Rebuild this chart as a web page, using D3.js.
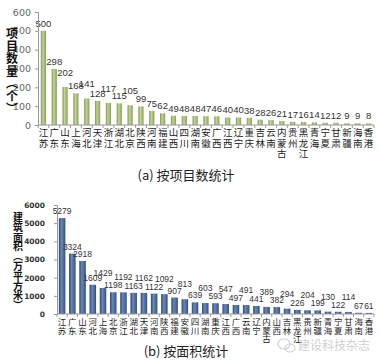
<!DOCTYPE html>
<html>
<head>
<meta charset="utf-8">
<script src="https://cdn.jsdelivr.net/npm/d3@7/dist/d3.min.js"></script>
<style>
  body { margin: 0; background: #fff; }
  text { font-family: "Noto Sans CJK SC", "Noto Sans", sans-serif; }
</style>
</head>
<body>
<svg id="chart"></svg>
<script>
// (a) by number of projects
var catsA = ['江苏','广东','山东','上海','河北','天津','浙江','湖北','北京','陕西','河南','福建','山西','四川','湖南','安徽','广西','江西','辽宁','重庆','吉林','云南','内蒙古','贵州','黑龙江','青海','宁夏','甘肃','新疆','海南','香港'];
var valsA = [500,298,202,168,141,128,117,115,105,99,75,62,49,48,48,47,46,40,40,38,28,26,21,17,16,14,12,12,9,9,8];
var ticksA = [0,100,200,300,400,500,600];

// (b) by floor area (10k m2)
var catsB = ['江苏','广东','山东','河北','上海','北京','浙江','湖北','天津','河南','陕西','福建','安徽','四川','湖南','重庆','江西','广西','云南','辽宁','内蒙古','山西','吉林','黑龙江','贵州','新疆','青海','宁夏','甘肃','海南','香港'];
var valsB = [5279,3324,2918,1609,1429,1198,1192,1163,1162,1122,1092,907,813,639,603,593,547,497,491,441,389,382,294,226,204,199,130,122,114,67,61];
var ticksB = [0,1000,2000,3000,4000,5000,6000];

var svg = d3.select('#chart').attr('width', 381).attr('height', 364);
var defs = svg.append('defs');

function grad(id, c0, c1, c2) {
  var g = defs.append('linearGradient').attr('id', id)
      .attr('x1', 0).attr('x2', 1).attr('y1', 0).attr('y2', 0);
  g.append('stop').attr('offset', '0%').attr('stop-color', c0);
  g.append('stop').attr('offset', '40%').attr('stop-color', c1);
  g.append('stop').attr('offset', '100%').attr('stop-color', c2);
}
grad('gA', '#7c9649', '#c3d39b', '#86a156');
grad('gB', '#2c4878', '#6a88b6', '#33507f');

function panel(o) {
  var g = svg.append('g');
  var x = d3.scaleBand().domain(o.cats).range(o.xr).paddingInner(o.pad).paddingOuter(o.pad / 2);
  var y = d3.scaleLinear().domain([0, d3.max(o.ticks)]).range(o.yr);

  // bars
  g.selectAll('rect.bar').data(o.vals).enter()
    .append('rect')
    .attr('class', 'bar')
    .attr('x', function (d, i) { return x(o.cats[i]); })
    .attr('width', x.bandwidth())
    .attr('y', function (d) { return y(d); })
    .attr('height', function (d) { return y(0) - y(d); })
    .attr('fill', 'url(#' + o.grad + ')');

  // value labels, staggered like the original
  g.selectAll('text.val').data(o.vals).enter()
    .append('text')
    .attr('class', 'val')
    .attr('x', function (d, i) { return x(o.cats[i]) + x.bandwidth() / 2; })
    .attr('y', function (d, i) {
      var lift = (i % 2 === 0 && i >= o.stag[0] && i <= o.stag[1]) ? o.lift : 0;
      return y(d) - o.gap - lift;
    })
    .attr('text-anchor', 'middle')
    .style('font-family', '"Liberation Sans", Arial, sans-serif')
    .style('font-size', o.valSize + 'px')
    .style('fill', '#333')
    .text(function (d) { return d; });

  // y axis
  var ya = g.append('g')
    .attr('transform', 'translate(' + o.xr[0] + ',0)')
    .call(d3.axisLeft(y).tickValues(o.ticks).tickFormat(d3.format('d')).tickSize(3).tickPadding(o.tickPad));
  ya.select('.domain').attr('stroke', '#999');
  ya.selectAll('line').attr('stroke', '#999');
  ya.selectAll('text')
    .style('font-family', o.tickFont)
    .style('font-size', o.tickSize + 'px')
    .style('font-weight', o.tickWeight)
    .style('fill', o.tickColor);

  // x axis line and boundary ticks
  g.append('line')
    .attr('x1', o.xr[0]).attr('x2', o.xr[1])
    .attr('y1', y(0)).attr('y2', y(0))
    .attr('stroke', '#999');
  g.selectAll('line.xt').data(o.cats.concat(['end'])).enter()
    .append('line')
    .attr('class', 'xt')
    .attr('x1', function (d, i) { return o.xr[0] + i * x.step(); })
    .attr('x2', function (d, i) { return o.xr[0] + i * x.step(); })
    .attr('y1', y(0)).attr('y2', y(0) + 3)
    .attr('stroke', '#999');

  // category labels, characters stacked vertically
  var cl = g.selectAll('text.cat').data(o.cats).enter()
    .append('text')
    .attr('class', 'cat')
    .attr('text-anchor', 'middle')
    .style('font-size', o.catSize + 'px')
    .style('fill', '#222');
  cl.each(function (d) {
    var t = d3.select(this);
    var cx = x(d) + x.bandwidth() / 2;
    d.split('').forEach(function (ch, k) {
      t.append('tspan').attr('x', cx).attr('y', y(0) + o.catTop + k * o.catStep).text(ch);
    });
  });

  // y title, stacked
  var yt = g.append('text')
    .attr('text-anchor', 'middle')
    .style('font-size', o.ytSize + 'px')
    .style('font-weight', 'bold')
    .style('fill', '#111');
  o.ytitle.forEach(function (ch, k) {
    yt.append('tspan').attr('x', o.ytX).attr('y', o.ytY + k * o.ytStep).text(ch);
  });

  // caption
  g.append('text')
    .attr('x', 186).attr('y', o.capY)
    .attr('text-anchor', 'middle')
    .style('font-size', '13px')
    .style('fill', '#222')
    .text(o.caption);
}

panel({
  cats: catsA, vals: valsA, ticks: ticksA,
  xr: [38, 374], yr: [125, 12], pad: 0.52, grad: 'gA',
  stag: [2, 8], lift: 7, gap: 4, valSize: 9.5,
  tickPad: 4, tickFont: '"DejaVu Sans", sans-serif', tickSize: 9.5, tickWeight: 'normal', tickColor: '#666',
  catSize: 9.5, catTop: 11, catStep: 10.5,
  ytitle: ['项','目','数','量','︵','个','︶'], ytX: 12, ytY: 38, ytStep: 12.5, ytSize: 12,
  caption: '(a) 按项目数统计', capY: 180
});

panel({
  cats: catsB, vals: valsB, ticks: ticksB,
  xr: [57, 374], yr: [314, 205], pad: 0.36, grad: 'gB',
  stag: [4, 28], lift: 8, gap: 4, valSize: 8.5,
  tickPad: 9, tickFont: '"DejaVu Sans", sans-serif', tickSize: 7.5, tickWeight: 'bold', tickColor: '#333',
  catSize: 8.5, catTop: 11, catStep: 8.5,
  ytitle: ['建','筑','面','积','︵','万','平','方','米','︶'], ytX: 18, ytY: 221, ytStep: 9.8, ytSize: 10,
  caption: '(b) 按面积统计', capY: 356
});

// watermark
var wm = svg.append('g').attr('opacity', 0.55);
wm.append('ellipse').attr('cx', 284).attr('cy', 344).attr('rx', 6).attr('ry', 5)
  .attr('fill', 'none').attr('stroke', '#aaa').attr('stroke-width', 1.2);
wm.append('ellipse').attr('cx', 290).attr('cy', 348).attr('rx', 5).attr('ry', 4)
  .attr('fill', 'none').attr('stroke', '#aaa').attr('stroke-width', 1.2);
wm.append('text').attr('x', 298).attr('y', 350)
  .style('font-size', '12px').style('fill', '#aaa')
  .text('建设科技杂志');
</script>
</body>
</html>
